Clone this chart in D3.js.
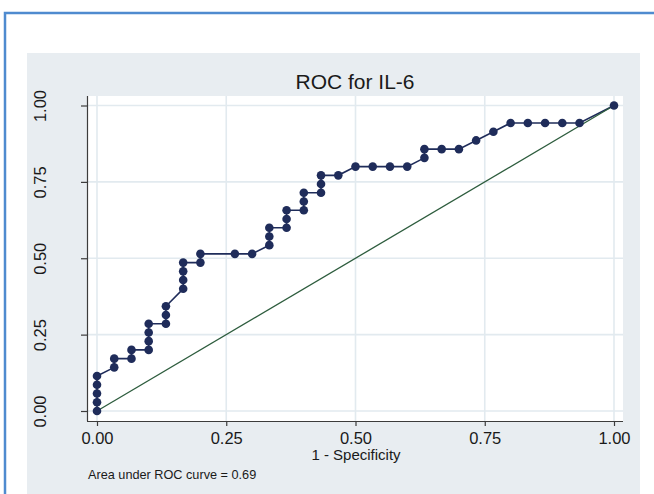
<!DOCTYPE html>
<html>
<head>
<meta charset="utf-8">
<script src="https://cdn.jsdelivr.net/npm/d3@7/dist/d3.min.js"></script>
<style>
  html, body { margin: 0; padding: 0; background: #ffffff; }
  svg { display: block; }
  text { font-family: "Liberation Sans", Arial, Helvetica, sans-serif; fill: #1a1a1a; }
</style>
</head>
<body>
<svg id="chart" width="654" height="494"></svg>
<script>
// ROC coordinates for IL-6: false-positive rate (1 - specificity) and sensitivity
const fpr = [
  0, 0, 0, 0, 0,
  0.0333, 0.0333,
  0.0667, 0.0667,
  0.1, 0.1, 0.1, 0.1,
  0.1333, 0.1333, 0.1333,
  0.1667, 0.1667, 0.1667, 0.1667,
  0.2, 0.2,
  0.2667, 0.3,
  0.3333, 0.3333, 0.3333,
  0.3667, 0.3667, 0.3667,
  0.4, 0.4, 0.4,
  0.4333, 0.4333, 0.4333,
  0.4667,
  0.5, 0.5333, 0.5667, 0.6,
  0.6333, 0.6333,
  0.6667, 0.7,
  0.7333, 0.7667,
  0.8, 0.8333, 0.8667, 0.9, 0.9333,
  1
];
const sensitivity = [
  0, 0.0286, 0.0571, 0.0857, 0.1143,
  0.1429, 0.1714,
  0.1714, 0.2,
  0.2, 0.2286, 0.2571, 0.2857,
  0.2857, 0.3143, 0.3429,
  0.4, 0.4286, 0.4571, 0.4857,
  0.4857, 0.5143,
  0.5143, 0.5143,
  0.5429, 0.5714, 0.6,
  0.6, 0.6286, 0.6571,
  0.6571, 0.6857, 0.7143,
  0.7143, 0.7429, 0.7714,
  0.7714,
  0.8, 0.8, 0.8, 0.8,
  0.8286, 0.8571,
  0.8571, 0.8571,
  0.8857, 0.9143,
  0.9429, 0.9429, 0.9429, 0.9429, 0.9429,
  1
];
const ticks = [0, 0.25, 0.5, 0.75, 1];
const titleText = "ROC for IL-6";
const xLabel = "1 - Specificity";
const aucNote = "Area under ROC curve = 0.69";

const points = fpr.map((f, i) => ({ x: f, y: sensitivity[i] }));

const svg = d3.select("#chart");

// outer frame
svg.append("rect")
  .attr("x", 5).attr("y", 13).attr("width", 660).attr("height", 500)
  .attr("fill", "#ffffff").attr("stroke", "#4f8bcf").attr("stroke-width", 2.5);

// graph region background
svg.append("rect")
  .attr("x", 27).attr("y", 53).attr("width", 613).attr("height", 460)
  .attr("fill", "#e8edf1");

// plot region
const plot = { left: 87, top: 96, right: 623, bottom: 421 };
svg.append("rect")
  .attr("x", plot.left).attr("y", plot.top)
  .attr("width", plot.right - plot.left).attr("height", plot.bottom - plot.top)
  .attr("fill", "#ffffff");

const x = d3.scaleLinear().domain([0, 1]).range([97, 614]);
const y = d3.scaleLinear().domain([0, 1]).range([411, 105.5]);

// gridlines
const grid = svg.append("g").attr("stroke", "#e2eaef").attr("stroke-width", 1.6);
grid.selectAll("line.gx").data(ticks).join("line")
  .attr("x1", d => x(d)).attr("x2", d => x(d))
  .attr("y1", plot.top).attr("y2", plot.bottom);
grid.selectAll("line.gy").data(ticks).join("line")
  .attr("x1", plot.left).attr("x2", plot.right)
  .attr("y1", d => y(d)).attr("y2", d => y(d));

// axes
const xAxis = d3.axisBottom(x).tickValues(ticks).tickFormat(d3.format(".2f"))
  .tickSize(5).tickSizeOuter(0).tickPadding(6);
const gx = svg.append("g").attr("transform", `translate(0,${plot.bottom})`).call(xAxis);
gx.select(".domain").attr("d", `M${plot.left},0.5H${plot.right}`).attr("stroke", "#3c3c3c").attr("stroke-width", 1.2);
gx.selectAll(".tick line").attr("stroke", "#3c3c3c").attr("stroke-width", 1.2);
gx.selectAll(".tick text").attr("font-size", 16.5).attr("fill", "#1a1a1a")
  .attr("font-family", "'Liberation Sans', Arial, sans-serif");

const yAxis = d3.axisLeft(y).tickValues(ticks).tickFormat(d3.format(".2f"))
  .tickSize(6).tickSizeOuter(0).tickPadding(9);
const gy = svg.append("g").attr("transform", `translate(${plot.left},0)`).call(yAxis);
gy.select(".domain").attr("d", `M0.5,${plot.top}V${plot.bottom}`).attr("stroke", "#3c3c3c").attr("stroke-width", 1.2);
gy.selectAll(".tick line").attr("stroke", "#3c3c3c").attr("stroke-width", 1.2);
gy.selectAll(".tick text")
  .attr("font-size", 16.5).attr("fill", "#1a1a1a")
  .attr("font-family", "'Liberation Sans', Arial, sans-serif")
  .attr("x", null).attr("dy", null)
  .attr("text-anchor", "middle")
  .attr("transform", "translate(-47,0) rotate(-90)")
  .attr("y", 6);

// ROC curve
const line = d3.line().x(d => x(d.x)).y(d => y(d.y));
svg.append("path").datum(points)
  .attr("d", line).attr("fill", "none")
  .attr("stroke", "#1f2c5a").attr("stroke-width", 1.6);

// reference diagonal
svg.append("path").datum([{ x: 0, y: 0 }, { x: 1, y: 1 }])
  .attr("d", line).attr("fill", "none")
  .attr("stroke", "#2e5d3e").attr("stroke-width", 1.3);

// markers
svg.append("g").selectAll("circle").data(points).join("circle")
  .attr("cx", d => x(d.x)).attr("cy", d => y(d.y)).attr("r", 4.3)
  .attr("fill", "#1f2c5a");

// title and labels
svg.append("text").attr("x", 355).attr("y", 89)
  .attr("text-anchor", "middle").attr("font-size", 21).text(titleText);
svg.append("text").attr("x", 356).attr("y", 460)
  .attr("text-anchor", "middle").attr("font-size", 15).text(xLabel);
svg.append("text").attr("x", 88).attr("y", 479)
  .attr("font-size", 12.7).text(aucNote);
</script>
</body>
</html>
